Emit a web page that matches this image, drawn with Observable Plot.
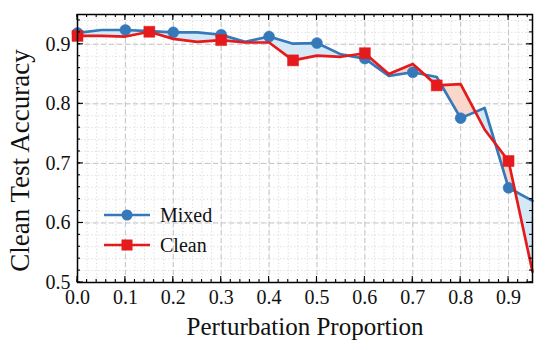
<!DOCTYPE html>
<html><head><meta charset="utf-8">
<script src="https://cdn.jsdelivr.net/npm/d3@7"></script>
<script src="https://cdn.jsdelivr.net/npm/@observablehq/plot@0.6"></script>
<style>
body{margin:0;background:#fff;}
#wrap{position:relative;width:546px;height:350px;}
#legend{position:absolute;left:0;top:0;pointer-events:none;}
</style></head><body><div id="wrap"></div>
<script>
const proportion = [0,0.05,0.1,0.15,0.2,0.25,0.3,0.35,0.4,0.45,0.5,0.55,0.6,0.65,0.7,0.75,0.8,0.85,0.9,0.95];
const mixed = [0.919,0.924,0.924,0.922,0.920,0.920,0.916,0.904,0.913,0.901,0.902,0.883,0.876,0.847,0.853,0.845,0.776,0.793,0.659,0.637];
const clean = [0.914,0.914,0.913,0.921,0.909,0.904,0.907,0.903,0.903,0.873,0.881,0.879,0.885,0.850,0.867,0.831,0.833,0.757,0.704,0.518];
const mixedMarkerEvery = 2;
const cleanMarkerEvery = 3;
const xTickLabels = [0,0.1,0.2,0.3,0.4,0.5,0.6,0.7,0.8,0.9];
const yTickLabels = [0.5,0.6,0.7,0.8,0.9];
const xMinor = d3.range(0, 48).map(i => i * 0.02);
const yMinor = d3.range(0, 23).map(i => 0.5 + i * 0.02);
const seriesNames = ["Mixed","Clean"];
const xTitle = "Perturbation Proportion";
const yTitle = "Clean Test Accuracy";

const blue = "#3579bb", red = "#e41a1c";
const font = "Liberation Serif, Times New Roman, serif";

const rows = proportion.map((p, i) => ({p, m: mixed[i], c: clean[i], i}));
// fill polygon rows, splitting at crossings so both fills follow the lines
const fillRows = [];
rows.forEach((r, i) => {
  fillRows.push(r);
  const n = rows[i + 1];
  if (n) {
    const d0 = r.m - r.c, d1 = n.m - n.c;
    if (d0 * d1 < 0) {
      const t = d0 / (d0 - d1);
      const v = r.m + t * (n.m - r.m);
      fillRows.push({p: r.p + t * (n.p - r.p), m: v, c: v});
    }
  }
});

function frameTicks(index, {x, y}, values, dims) {
  const g = d3.create("svg:g").attr("stroke", "#000").attr("stroke-width", 1.1);
  const l = dims.marginLeft, t = dims.marginTop;
  const r = dims.width - dims.marginRight, b = dims.height - dims.marginBottom;
  for (const [vals, len] of [[xTickLabels, 6], [xMinor, 3]]) for (const v of vals) {
    const px = x(v);
    g.append("line").attr("x1", px).attr("x2", px).attr("y1", b).attr("y2", b - len);
    g.append("line").attr("x1", px).attr("x2", px).attr("y1", t).attr("y2", t + len);
  }
  for (const [vals, len] of [[yTickLabels, 6], [yMinor, 3]]) for (const v of vals) {
    const py = y(v);
    g.append("line").attr("y1", py).attr("y2", py).attr("x1", l).attr("x2", l + len);
    g.append("line").attr("y1", py).attr("y2", py).attr("x1", r).attr("x2", r - len);
  }
  return g.node();
}

const chart = Plot.plot({
  width: 546, height: 350,
  marginLeft: 77, marginRight: 14, marginTop: 14, marginBottom: 68,
  style: {fontFamily: font, background: "#fff"},
  x: {domain: [0, 0.95]},
  y: {domain: [0.5, 0.95]},
  marks: [
    Plot.gridX(xMinor, {stroke: "#d9d9d9", strokeOpacity: 1, strokeDasharray: "1.5,2", strokeWidth: 0.8}),
    Plot.gridY(yMinor, {stroke: "#d9d9d9", strokeOpacity: 1, strokeDasharray: "1.5,2", strokeWidth: 0.8}),
    Plot.gridX(xTickLabels, {stroke: "#c4c4c4", strokeOpacity: 1, strokeDasharray: "5,3", strokeWidth: 1}),
    Plot.gridY(yTickLabels, {stroke: "#c4c4c4", strokeOpacity: 1, strokeDasharray: "5,3", strokeWidth: 1}),
    Plot.areaY(fillRows, {x: "p", y1: "c", y2: d => Math.max(d.m, d.c), fill: "#d5e8f5", curve: "linear"}),
    Plot.areaY(fillRows, {x: "p", y1: "m", y2: d => Math.max(d.m, d.c), fill: "#f9d7ca", curve: "linear"}),
    Plot.lineY(rows, {x: "p", y: "m", stroke: blue, strokeWidth: 2.7}),
    Plot.dot(rows.filter(d => d.i % mixedMarkerEvery === 0), {x: "p", y: "m", r: 5.5, fill: blue, stroke: blue, strokeWidth: 0.5}),
    Plot.lineY(rows, {x: "p", y: "c", stroke: red, strokeWidth: 2.7}),
    Plot.dot(rows.filter(d => d.i % cleanMarkerEvery === 0), {x: "p", y: "c", r: 6.2, symbol: "square", fill: red, stroke: red, strokeWidth: 0.5}),
    Plot.frame({stroke: "#000", strokeWidth: 1.5}),
    frameTicks,
    Plot.axisX(xTickLabels, {tickSize: 0, tickPadding: 7, tickFormat: d3.format(".1f"), fontSize: 20, fontFamily: font, fill: "#111", label: null}),
    Plot.axisY(yTickLabels, {tickSize: 0, tickPadding: 7, tickFormat: d3.format(".1f"), fontSize: 20, fontFamily: font, fill: "#111", label: null}),
    Plot.text([xTitle], {text: d => d, frameAnchor: "bottom", textAnchor: "middle", dy: 52, fontSize: 25, fontFamily: font, fill: "#111"}),
    Plot.text([yTitle], {text: d => d, frameAnchor: "left", textAnchor: "middle", dx: -57, dy: 12, rotate: -90, fontSize: 27, fontFamily: font, fill: "#111"})
  ]
});
const wrap = document.getElementById("wrap");
wrap.appendChild(chart);

// legend
const lg = d3.select(wrap).append("svg").attr("id", "legend").attr("width", 546).attr("height", 350);
const items = [{name: seriesNames[0], color: blue, sym: "circle", y: 215}, {name: seriesNames[1], color: red, sym: "square", y: 245}];
for (const it of items) {
  lg.append("line").attr("x1", 104).attr("x2", 150).attr("y1", it.y).attr("y2", it.y).attr("stroke", it.color).attr("stroke-width", 2.7);
  if (it.sym === "circle") lg.append("circle").attr("cx", 127).attr("cy", it.y).attr("r", 5.5).attr("fill", it.color);
  else lg.append("rect").attr("x", 127 - 5.5).attr("y", it.y - 5.5).attr("width", 11).attr("height", 11).attr("fill", it.color);
  lg.append("text").attr("x", 160).attr("y", it.y).attr("dy", "0.35em").attr("font-family", font).attr("font-size", 20).attr("fill", "#111").text(it.name);
}
</script>
</body></html>
